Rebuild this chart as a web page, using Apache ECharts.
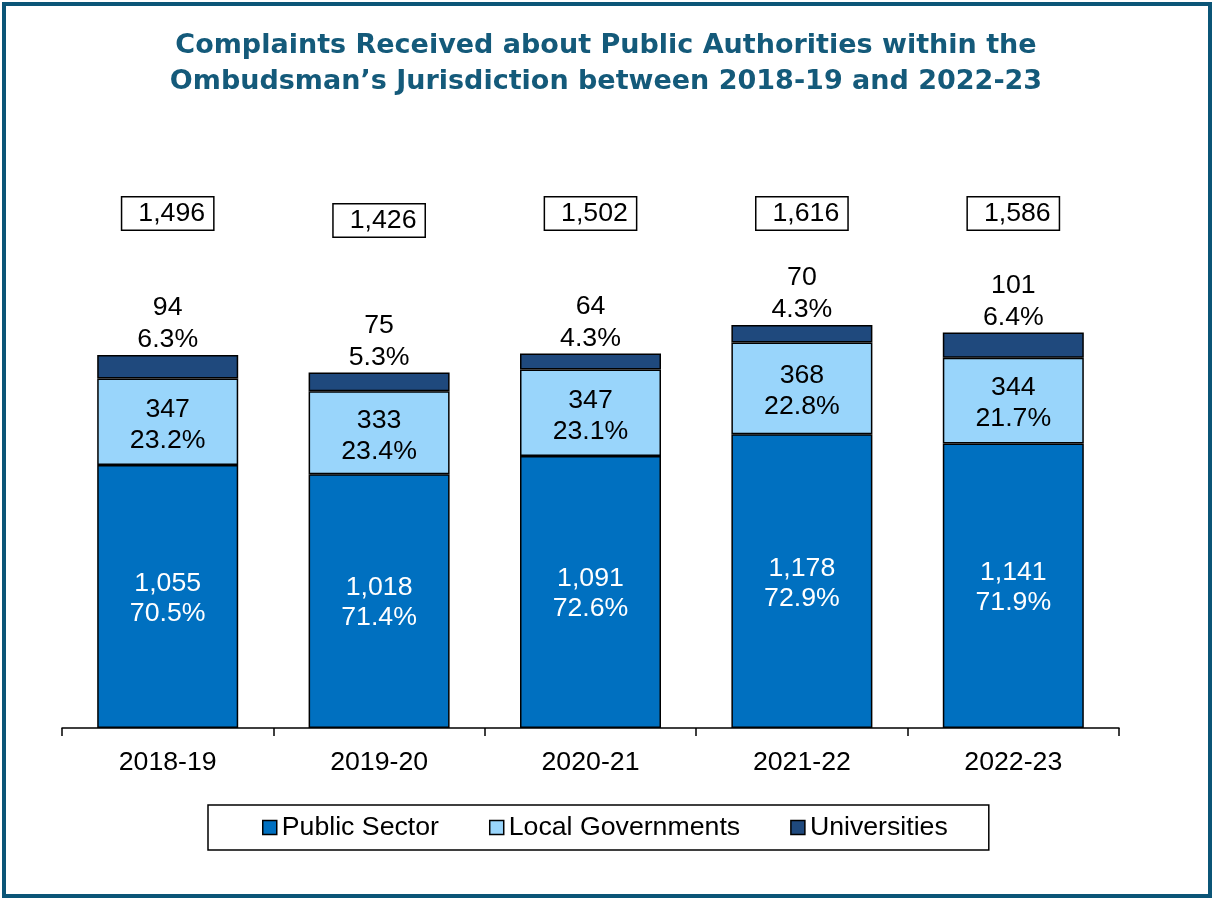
<!DOCTYPE html>
<html>
<head>
<meta charset="utf-8">
<script src="https://cdn.jsdelivr.net/npm/echarts@6/dist/echarts.min.js"></script>
<style>
  html, body { margin: 0; padding: 0; background: #ffffff; }
  #chart { width: 1212px; height: 898px; }
</style>
</head>
<body>
<div id="chart"></div>
<script>
// Complaints by type of public authority, per financial year
const years = ['2018-19', '2019-20', '2020-21', '2021-22', '2022-23'];
const publicSector = [1055, 1018, 1091, 1178, 1141];
const localGovernments = [347, 333, 347, 368, 344];
const universities = [94, 75, 64, 70, 101];
const totals = [1496, 1426, 1502, 1616, 1586];

const FONT = '"Liberation Sans", Arial, sans-serif';
const FS = 26.7;
const LABEL_ROW = 2064; // value level at which the total boxes sit

const fmt = n => n.toLocaleString('en-US');
const pct = (v, i) => (v / totals[i] * 100).toFixed(1) + '%';

const chart = echarts.init(document.getElementById('chart'), null, { renderer: 'canvas' });

const barStyle = color => ({ color: color, borderColor: '#000', borderWidth: 1.5 });
const twoLine = p => fmt(p.value) + '\n' + pct(p.value, p.dataIndex);

chart.setOption({
  backgroundColor: '#ffffff',
  animation: false,
  title: {
    text: 'Complaints Received about Public Authorities within the\nOmbudsman\u2019s Jurisdiction between 2018-19 and 2022-23',
    left: 'center',
    top: 23,
    textStyle: {
      fontFamily: '"DejaVu Sans", sans-serif',
      fontWeight: 'bold',
      fontSize: 27,
      lineHeight: 36,
      color: '#145a7a',
      align: 'center'
    }
  },
  graphic: [{
    type: 'rect',
    shape: { x: 4, y: 4, width: 1206, height: 892 },
    style: { fill: 'none', stroke: '#0b5577', lineWidth: 4 },
    silent: true
  }],
  legend: {
    data: ['Public Sector', 'Local Governments', 'Universities'],
    left: 208,
    top: 805,
    padding: [9, 41, 9, 54],
    borderColor: '#000',
    borderWidth: 1.5,
    itemWidth: 14,
    itemHeight: 14,
    itemGap: 50,
    icon: 'rect',
    itemStyle: { borderColor: '#000', borderWidth: 1.5 },
    textStyle: { fontFamily: FONT, fontSize: FS, color: '#000', padding: [3, 0, 0, 0] }
  },
  grid: { left: 62, right: 93, top: 204.4, bottom: 170, containLabel: false },
  xAxis: {
    type: 'category',
    data: years,
    axisLine: { lineStyle: { color: '#000', width: 1.5 } },
    axisTick: { show: true, length: 8, lineStyle: { color: '#000', width: 1.5 } },
    axisLabel: { fontFamily: FONT, fontSize: FS, color: '#000', margin: 21 }
  },
  yAxis: {
    type: 'value',
    min: 0,
    max: 2100,
    show: false,
    splitLine: { show: false }
  },
  series: [
    {
      name: 'Public Sector',
      type: 'bar',
      stack: 'total',
      barWidth: 141,
      data: publicSector,
      itemStyle: barStyle('#0070c0'),
      label: {
        show: true,
        position: 'inside',
        offset: [0, 2],
        fontFamily: FONT,
        fontSize: FS,
        lineHeight: 30,
        color: '#ffffff',
        formatter: twoLine
      }
    },
    {
      name: 'Local Governments',
      type: 'bar',
      stack: 'total',
      data: localGovernments,
      itemStyle: barStyle('#99d5fb'),
      label: {
        show: true,
        position: 'inside',
        offset: [0, 3],
        fontFamily: FONT,
        fontSize: FS,
        lineHeight: 31,
        color: '#000',
        formatter: twoLine
      }
    },
    {
      name: 'Universities',
      type: 'bar',
      stack: 'total',
      data: universities,
      itemStyle: barStyle('#1f497d'),
      label: {
        show: true,
        position: 'top',
        distance: -1,
        fontFamily: FONT,
        fontSize: FS,
        lineHeight: 32,
        color: '#000',
        formatter: twoLine
      }
    },
    {
      name: 'Total',
      type: 'scatter',
      symbolSize: 0,
      silent: true,
      clip: false,
      itemStyle: { opacity: 1 },
      data: totals.map((t, i) => ({
        value: [years[i], LABEL_ROW],
        label: i === 1 ? { offset: [0, 7] } : undefined
      })),
      label: {
        show: true,
        position: 'inside',
        fontFamily: FONT,
        fontSize: FS,
        color: '#000',
        borderColor: '#000',
        borderWidth: 1.5,
        backgroundColor: '#fff',
        padding: [3, 8, 2, 16],
        formatter: p => fmt(totals[p.dataIndex])
      }
    }
  ]
});
</script>
</body>
</html>
